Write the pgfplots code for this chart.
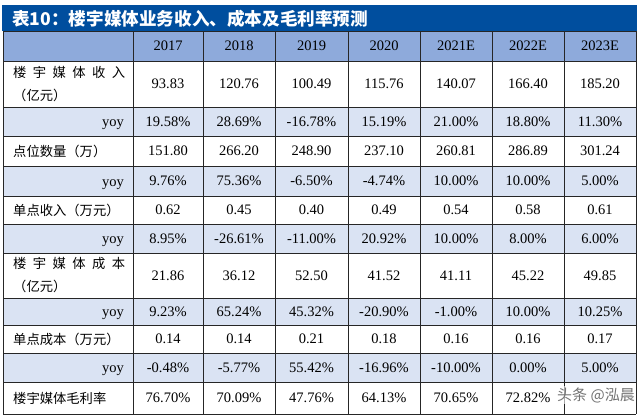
\documentclass[border=0pt]{standalone}
\usepackage{pgfplots}
\pgfplotsset{compat=1.18}
\usepackage{fontspec}
\setmainfont{Liberation Serif}
\newfontfamily\cjk{Noto Sans CJK SC}
\newcommand\numfont{\fontsize{14.5}{17}\selectfont}
\newcommand\labfont{\cjk\fontsize{13.3}{23}\selectfont}

\definecolor{titlebg}{RGB}{0,78,158}
\definecolor{headbg}{RGB}{142,170,219}
\definecolor{yoybg}{RGB}{218,227,243}

\newcommand\labA{\makebox[112pt]{楼\hfill 宇\hfill 媒\hfill 体\hfill 收\hfill 入}\\（亿元）}
\newcommand\labB{\makebox[112pt]{楼\hfill 宇\hfill 媒\hfill 体\hfill 成\hfill 本}\\（亿元）}

\pgfplotsset{
  cell/.style={draw=none, mark=none, nodes near coords,
    point meta=explicit symbolic,
    every node near coord/.append style={anchor=center, font=\numfont, inner sep=0pt}},
  lab/.style={draw=none, mark=none, nodes near coords,
    point meta=explicit symbolic,
    every node near coord/.append style={anchor=west, font=\labfont, inner sep=0pt,
      align=left, text width=115pt}},
}

\begin{document}
\begin{tikzpicture}
\begin{axis}[
    width=640pt, height=418pt, scale only axis,
    xmin=0, xmax=640, ymin=0, ymax=418,
    y dir=reverse,
    hide axis, clip=false,
  ]
  % background and fills
  \addplot[fill=white, draw=none] coordinates {(0,0) (640,0) (640,418) (0,418)} -- cycle;
  \addplot[fill=titlebg, draw=none] coordinates {(2,5) (637,5) (637,31) (2,31)} -- cycle;
  \addplot[fill=headbg, draw=none] coordinates {(3,31) (636,31) (636,61) (3,61)} -- cycle;
  \addplot[fill=yoybg, draw=none] coordinates {(3,107) (636,107) (636,136) (3,136)} -- cycle;
  \addplot[fill=yoybg, draw=none] coordinates {(3,166) (636,166) (636,196) (3,196)} -- cycle;
  \addplot[fill=yoybg, draw=none] coordinates {(3,224) (636,224) (636,253) (3,253)} -- cycle;
  \addplot[fill=yoybg, draw=none] coordinates {(3,298) (636,298) (636,325) (3,325)} -- cycle;
  \addplot[fill=yoybg, draw=none] coordinates {(3,353) (636,353) (636,382) (3,382)} -- cycle;

  % grid lines
  \addplot[black!85, line width=0.9pt, unbounded coords=jump] coordinates {
    (3,31) (3,414) (nan,nan)
    (133,31) (133,414) (nan,nan)
    (203,31) (203,414) (nan,nan)
    (275,31) (275,414) (nan,nan)
    (348,31) (348,414) (nan,nan)
    (420,31) (420,414) (nan,nan)
    (492,31) (492,414) (nan,nan)
    (564,31) (564,414) (nan,nan)
    (636,31) (636,414)
  };
  \addplot[black!85, line width=0.9pt, unbounded coords=jump] coordinates {
    (3,31) (636,31) (nan,nan)
    (3,61) (636,61) (nan,nan)
    (3,107) (636,107) (nan,nan)
    (3,136) (636,136) (nan,nan)
    (3,166) (636,166) (nan,nan)
    (3,196) (636,196) (nan,nan)
    (3,224) (636,224) (nan,nan)
    (3,253) (636,253) (nan,nan)
    (3,298) (636,298) (nan,nan)
    (3,325) (636,325) (nan,nan)
    (3,353) (636,353) (nan,nan)
    (3,382) (636,382) (nan,nan)
    (3,414) (636,414)
  };

  % title
  \addplot[draw=none, mark=none, nodes near coords, point meta=explicit symbolic,
    every node near coord/.append style={anchor=west, text=white, inner sep=0pt,
      font=\cjk\bfseries\fontsize{17.6}{20}\selectfont}]
    coordinates {(12,18.5) [表10：楼宇媒体业务收入、成本及毛利率预测]};

  % header
  \addplot[cell] coordinates {(168,46)[2017] (239,46)[2018] (311.5,46)[2019] (384,46)[2020]
    (456,46)[2021E] (528,46)[2022E] (600,46)[2023E]};

  % row labels
  \addplot[lab] coordinates {(13,84)[\labA] (13,151)[点位数量（万）] (13,210)[单点收入（万元）]
    (13,275.5)[\labB] (13,339)[单点成本（万元）] (13,398)[楼宇媒体毛利率]};
  \addplot[draw=none, mark=none, nodes near coords, point meta=explicit symbolic,
    every node near coord/.append style={anchor=base east, font=\numfont, inner sep=0pt}]
    coordinates {(124,126.5)[yoy] (124,186)[yoy] (124,243.5)[yoy] (124,316.5)[yoy] (124,372.5)[yoy]};

  % values
  \addplot[cell] coordinates {(168,84)[93.83] (239,84)[120.76] (311.5,84)[100.49] (384,84)[115.76]
    (456,84)[140.07] (528,84)[166.40] (600,84)[185.20]};
  \addplot[cell] coordinates {(168,121.5)[19.58\%] (239,121.5)[28.69\%] (311.5,121.5)[-16.78\%] (384,121.5)[15.19\%]
    (456,121.5)[21.00\%] (528,121.5)[18.80\%] (600,121.5)[11.30\%]};
  \addplot[cell] coordinates {(168,151)[151.80] (239,151)[266.20] (311.5,151)[248.90] (384,151)[237.10]
    (456,151)[260.81] (528,151)[286.89] (600,151)[301.24]};
  \addplot[cell] coordinates {(168,181)[9.76\%] (239,181)[75.36\%] (311.5,181)[-6.50\%] (384,181)[-4.74\%]
    (456,181)[10.00\%] (528,181)[10.00\%] (600,181)[5.00\%]};
  \addplot[cell] coordinates {(168,210)[0.62] (239,210)[0.45] (311.5,210)[0.40] (384,210)[0.49]
    (456,210)[0.54] (528,210)[0.58] (600,210)[0.61]};
  \addplot[cell] coordinates {(168,238.5)[8.95\%] (239,238.5)[-26.61\%] (311.5,238.5)[-11.00\%] (384,238.5)[20.92\%]
    (456,238.5)[10.00\%] (528,238.5)[8.00\%] (600,238.5)[6.00\%]};
  \addplot[cell] coordinates {(168,275.5)[21.86] (239,275.5)[36.12] (311.5,275.5)[52.50] (384,275.5)[41.52]
    (456,275.5)[41.11] (528,275.5)[45.22] (600,275.5)[49.85]};
  \addplot[cell] coordinates {(168,311.5)[9.23\%] (239,311.5)[65.24\%] (311.5,311.5)[45.32\%] (384,311.5)[-20.90\%]
    (456,311.5)[-1.00\%] (528,311.5)[10.00\%] (600,311.5)[10.25\%]};
  \addplot[cell] coordinates {(168,339)[0.14] (239,339)[0.14] (311.5,339)[0.21] (384,339)[0.18]
    (456,339)[0.16] (528,339)[0.16] (600,339)[0.17]};
  \addplot[cell] coordinates {(168,367.5)[-0.48\%] (239,367.5)[-5.77\%] (311.5,367.5)[55.42\%] (384,367.5)[-16.96\%]
    (456,367.5)[-10.00\%] (528,367.5)[0.00\%] (600,367.5)[5.00\%]};
  \addplot[cell] coordinates {(168,398)[76.70\%] (239,398)[70.09\%] (311.5,398)[47.76\%] (384,398)[64.13\%]
    (456,398)[70.65\%] (528,398)[72.82\%]};

  % watermark
  \addplot[draw=none, mark=none, nodes near coords, point meta=explicit symbolic,
    every node near coord/.append style={anchor=west, text=black!55, fill=white, fill opacity=0.6,
      text opacity=1, inner sep=1pt, font=\cjk\fontsize{15}{17}\selectfont}]
    coordinates {(556,395) [头条 @泓晨]};
\end{axis}
\end{tikzpicture}
\end{document}
